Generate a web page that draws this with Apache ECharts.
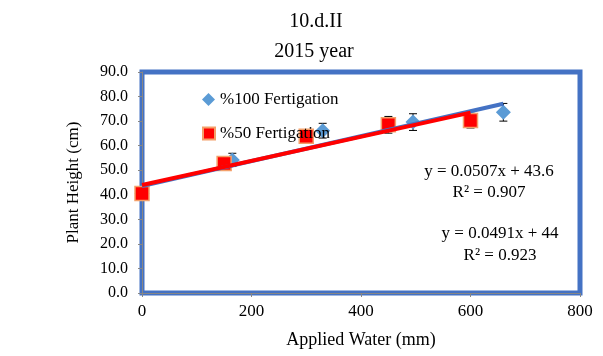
<!DOCTYPE html>
<html>
<head>
<meta charset="utf-8">
<script src="https://cdn.jsdelivr.net/npm/echarts@6/dist/echarts.min.js"></script>
<style>
html,body{margin:0;padding:0;background:#fff;}
#c{width:603px;height:356px;}
</style>
</head>
<body>
<div id="c"></div>
<script>
// ---- data ----
var seriesNames = ['%100 Fertigation', '%50 Fertigation'];
var water100 = [0, 165, 330, 495, 660];
var height100 = [40.5, 54.2, 66.1, 69.6, 73.6];
var err100 = [0, 2.7, 3.0, 3.4, 3.6];
var water50 = [0, 150, 300, 450, 600];
var height50 = [40.5, 52.7, 63.8, 68.5, 70.2];
var err50 = [0, 0.8, 1.2, 3.4, 3.0];
var trendSlope = [0.0507, 0.0491];
var trendIntercept = [43.6, 44];
var trendR2 = [0.907, 0.923];
var titleLines = ['10.d.II', '2015 year'];
var xTitle = 'Applied Water (mm)';
var yTitle = 'Plant Height (cm)';

var FONT = '"Liberation Serif", "Times New Roman", serif';
var chart = echarts.init(document.getElementById('c'));

function pairs(xs, ys) { return xs.map(function (x, i) { return [x, ys[i]]; }); }
function errData(xs, ys, es) { return xs.map(function (x, i) { return [x, ys[i] - es[i], ys[i] + es[i]]; }); }
function trendData(xs, k) {
  var x0 = xs[0], x1 = xs[xs.length - 1];
  return [[x0, trendSlope[k] * x0 + trendIntercept[k]], [x1, trendSlope[k] * x1 + trendIntercept[k]]];
}
function errRender(params, api) {
  var x = api.value(0);
  var lo = api.coord([x, api.value(1)]);
  var hi = api.coord([x, api.value(2)]);
  var cw = 4;
  var st = { stroke: '#000', lineWidth: 1 };
  return {
    type: 'group',
    children: [
      { type: 'line', shape: { x1: lo[0], y1: lo[1], x2: hi[0], y2: hi[1] }, style: st },
      { type: 'line', shape: { x1: lo[0] - cw, y1: lo[1], x2: lo[0] + cw, y2: lo[1] }, style: st },
      { type: 'line', shape: { x1: hi[0] - cw, y1: hi[1], x2: hi[0] + cw, y2: hi[1] }, style: st }
    ]
  };
}
function eqText(k) {
  return 'y = ' + trendSlope[k] + 'x + ' + trendIntercept[k] + '\nR² = ' + trendR2[k];
}

var option = {
  animation: false,
  backgroundColor: '#fff',
  textStyle: { fontFamily: FONT },
  grid: {
    left: 142, right: 23, top: 72, bottom: 63,
    show: true, borderColor: '#4472C4', borderWidth: 5, backgroundColor: 'transparent'
  },
  xAxis: {
    type: 'value', min: 0, max: 800, interval: 200,
    name: xTitle, nameLocation: 'middle', nameGap: 38,
    nameTextStyle: { fontFamily: FONT, fontSize: 18, color: '#000' },
    axisLine: { show: true, lineStyle: { color: '#868686', width: 1 } },
    axisTick: { show: true, inside: false, length: 4, lineStyle: { color: '#868686' } },
    axisLabel: { fontFamily: FONT, fontSize: 17, color: '#000', margin: 10 },
    splitLine: { show: false }
  },
  yAxis: {
    type: 'value', min: 0, max: 90, interval: 10,
    name: yTitle, nameLocation: 'middle', nameGap: 60, nameRotate: 90,
    nameTextStyle: { fontFamily: FONT, fontSize: 17, color: '#000' },
    axisLine: { show: true, lineStyle: { color: '#868686', width: 1 } },
    axisTick: { show: true, inside: false, length: 4, lineStyle: { color: '#868686' } },
    axisLabel: { fontFamily: FONT, fontSize: 16, color: '#000', margin: 14,
      formatter: function (v) { return v.toFixed(1); } },
    splitLine: { show: false }
  },
  legend: [
    { data: [{ name: seriesNames[0], icon: 'diamond' }], left: 197, top: 86, orient: 'vertical',
      itemWidth: 13, itemHeight: 13, itemGap: 5,
      textStyle: { fontFamily: FONT, fontSize: 17, color: '#000' } },
    { data: [{ name: seriesNames[1], icon: 'rect' }], left: 197, top: 120, orient: 'vertical',
      itemWidth: 12, itemHeight: 12,
      textStyle: { fontFamily: FONT, fontSize: 17, color: '#000' } }
  ],
  graphic: [
    { type: 'text', x: 316, y: 22, style: { text: titleLines[0], font: '20px ' + FONT, fill: '#000', align: 'center', verticalAlign: 'middle' } },
    { type: 'text', x: 314, y: 52, style: { text: titleLines[1], font: '20px ' + FONT, fill: '#000', align: 'center', verticalAlign: 'middle' } },
    { type: 'text', x: 489, y: 182, style: { text: eqText(0), font: '17px ' + FONT, fill: '#000', align: 'center', verticalAlign: 'middle', lineHeight: 21 } },
    { type: 'text', x: 500, y: 245, style: { text: eqText(1), font: '17px ' + FONT, fill: '#000', align: 'center', verticalAlign: 'middle', lineHeight: 22 } }
  ],
  series: [
    { name: 'err100', type: 'custom', renderItem: errRender, data: errData(water100, height100, err100), z: 2 },
    { name: 'err50', type: 'custom', renderItem: errRender, data: errData(water50, height50, err50), z: 2 },
    { name: seriesNames[0], type: 'scatter', symbol: 'diamond', symbolSize: 15,
      itemStyle: { color: '#5B9BD5', opacity: 1 }, data: pairs(water100, height100), z: 3 },
    { name: seriesNames[1], type: 'scatter', symbol: 'rect', symbolSize: 14,
      itemStyle: { color: '#FF0000', borderColor: '#F4A06A', borderWidth: 1.5, opacity: 1 }, data: pairs(water50, height50), z: 3 },
    { name: 'trend100', type: 'line', data: trendData(water100, 0), showSymbol: false, symbol: 'none',
      lineStyle: { color: '#4472C4', width: 4 }, z: 4, silent: true },
    { name: 'trend50', type: 'line', data: trendData(water50, 1), showSymbol: false, symbol: 'none',
      lineStyle: { color: '#FF0000', width: 4 }, z: 5, silent: true }
  ]
};
chart.setOption(option);
</script>
</body>
</html>
